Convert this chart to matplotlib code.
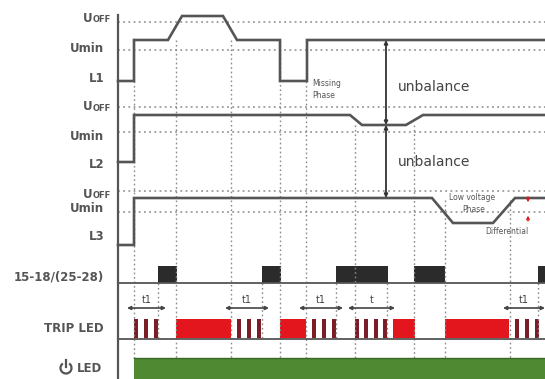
import matplotlib
matplotlib.use("Agg")
import matplotlib.pyplot as plt
from matplotlib.patches import Arc

# timing diagram, coordinates are in the picture's own units (x = time, y = level)
W, H = 545, 379
AX_X = 118
END = 545

# phase waveforms: time points and levels
L1_t = [118, 134, 134, 168, 182, 223, 237, 280, 280, 307, 307, 545]
L1_v = [81, 81, 40, 40, 16, 16, 40, 40, 81, 81, 40, 40]
L2_t = [118, 134, 134, 350, 362, 406, 423, 545]
L2_v = [162, 162, 115, 115, 125, 125, 115, 115]
L3_t = [118, 134, 134, 432, 453, 493, 515, 545]
L3_v = [245, 245, 198, 198, 223, 223, 198, 198]

# threshold levels (Uoff / Umin of each phase)
thresholds = [22, 50, 107, 132, 191, 212]

# row labels
labels = ["U", "Umin", "L1", "U", "Umin", "L2", "U", "Umin", "L3",
          "15-18/(25-28)", "TRIP LED"]
label_y = [18, 48, 79, 107, 137, 165, 194, 209, 236, 277, 328]

# event lines: time, top of line
events = [134, 176, 231, 280, 306, 355, 414, 445, 510]
event_top = [81, 40, 40, 40, 81, 125, 125, 200, 200]
trip_marks = [158, 262, 336, 387, 538]

# relay 15-18 closed intervals
relay_on = [(158, 177), (262, 281), (336, 388), (414, 445), (538, 545)]

# TRIP LED: steady intervals and blink starts
trip_steady = [(176, 231), (280, 306), (393, 415), (445, 509)]
trip_blink = [134, 144, 154, 237, 247, 257, 312, 322, 332,
              355, 364, 374, 383, 515, 525, 535]
BLINK_W = 4

# delay annotations
delays = [(127, 166, "t1"), (225, 269, "t1"), (299, 343, "t1"),
          (348, 395, "t"), (503, 545, "t1")]

# power LED on from
power_on = 134

GRAY = "#4a4a4a"
DOT = "#8a8a8a"

fig = plt.figure(figsize=(W / 100, H / 100), dpi=100)
ax = fig.add_axes([0, 0, 1, 1])
ax.set_xlim(0, W)
ax.set_ylim(H, 0)
ax.axis("off")

lab_font = dict(family=["Liberation Sans Narrow", "DejaVu Sans"], weight="bold",
                color="#555555", fontsize=8.5, ha="right", va="center")

# threshold lines
for y in thresholds:
    ax.plot([AX_X, END], [y, y], color=DOT, lw=1.1, ls=(0, (1.2, 2.2)))

# event lines
for x, top in zip(events, event_top):
    ax.plot([x, x], [top, 358], color=DOT, lw=1.0, ls=(0, (1.2, 2.0)))
for x in trip_marks:
    ax.plot([x, x], [283, 339], color=DOT, lw=1.0, ls=(0, (1.2, 2.0)))

# waveforms
for t, v in [(L1_t, L1_v), (L2_t, L2_v), (L3_t, L3_v)]:
    ax.plot(t, v, color="#555555", lw=1.9, solid_joinstyle="miter")

# main vertical axis and row separators
ax.plot([AX_X, AX_X], [15, H], color="#555555", lw=1.6)
ax.plot([AX_X, END], [283, 283], color="#555555", lw=1.3)
ax.plot([AX_X, END], [339, 339], color="#555555", lw=1.3)

# labels
for txt, y in zip(labels, label_y):
    if txt == "U":
        ax.text(93, y, "U", **lab_font)
        f = dict(lab_font)
        f.update(fontsize=6.0, ha="left")
        ax.text(93, y + 1.5, "OFF", **f)
    else:
        ax.text(104, y, txt, **lab_font)

# power LED label with symbol (y axis is inverted, so the gap sits at 270 deg)
ax.add_patch(Arc((66, 368), 11, 11, theta1=305, theta2=595, color="#555555", lw=1.6))
ax.plot([66, 66], [360, 367], color="#555555", lw=1.6)
ax.text(102, 369, "LED", **lab_font)

# relay contact
for a, b in relay_on:
    ax.fill([a, b, b, a], [283, 283, 266, 266], color="#2b2b2b", lw=0)

# TRIP LED
for a, b in trip_steady:
    ax.fill([a, b, b, a], [338, 338, 319, 319], color="#e3161d", lw=0)
for a in trip_blink:
    ax.fill([a, a + BLINK_W, a + BLINK_W, a], [338, 338, 319, 319], color="#7a1d26", lw=0)

for a, b, s in delays:
    ax.annotate("", xy=(a, 308), xytext=(b, 308),
                arrowprops=dict(arrowstyle="<|-|>", color="#444444", lw=1.2,
                                mutation_scale=5, shrinkA=0, shrinkB=0))
    ax.text((a + b) / 2, 300, s, fontsize=7, color="#444444", ha="center", va="center",
            family=["Liberation Sans Narrow", "DejaVu Sans"])

# power LED
ax.fill([power_on, END, END, power_on], [H, H, 358, 358], color="#4f8a33", lw=0)
ax.plot([power_on, END], [358, 358], color="#3a6a25", lw=1.0)

# unbalance arrows
for y0, y1 in [(40, 125), (125, 198)]:
    ax.annotate("", xy=(386, y0), xytext=(386, y1),
                arrowprops=dict(arrowstyle="<|-|>", color="#333333", lw=1.3,
                                mutation_scale=5, shrinkA=0, shrinkB=0))
for y in [87, 162]:
    ax.text(398, y, "unbalance", fontsize=10, color="#444444", ha="left", va="center",
            family="DejaVu Sans", stretch="expanded")

# small notes
note = dict(fontsize=5.5, color="#555555", family="DejaVu Sans")
ax.text(312, 84, "Missing", va="center", **note)
ax.text(312, 96, "Phase", va="center", **note)
ax.text(472, 198, "Low voltage", ha="center", va="center", **note)
ax.text(474, 209, "Phase", ha="center", va="center", **note)
ax.text(485, 232, "Differential", va="center", **note)
ax.annotate("", xy=(528, 205), xytext=(528, 194),
            arrowprops=dict(arrowstyle="-|>", color="#e3161d", lw=0.8, mutation_scale=5))
ax.annotate("", xy=(528, 213), xytext=(528, 224),
            arrowprops=dict(arrowstyle="-|>", color="#e3161d", lw=0.8, mutation_scale=5))

fig.savefig("out.png", dpi=100)
